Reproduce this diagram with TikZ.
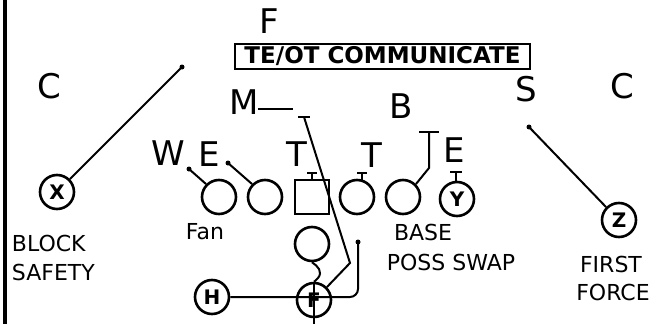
\documentclass[tikz,border=0pt]{standalone}
\usepackage{fontspec}
\setmainfont{DejaVu Sans}
\begin{document}
\begin{tikzpicture}[x=1pt,y=-1pt,line width=2pt,
  big/.style={font=\fontsize{34}{34}\selectfont, inner sep=0pt},
  lab/.style={font=\fontsize{22}{22}\selectfont, inner sep=0pt},
  man/.style={circle, draw, line width=2.6pt, minimum size=34pt, inner sep=0pt},
  skill/.style={man, font=\bfseries\fontsize{20}{20}\selectfont},
  ctr/.style={draw, line width=2.6pt, minimum size=34pt, inner sep=0pt},
  route/.style={line width=2pt},
  tdot/.style={circle, fill, inner sep=0pt, minimum size=5pt}
]
\fill[white] (0,0) rectangle (658,324);
\useasboundingbox (0,0) rectangle (658,324);
\draw[line width=3.5pt] (5,0) -- (5,324);

% defense letters
\node[big] (F) at (269,21) {F};
\node[draw, line width=1.8pt, minimum width=295pt, minimum height=25pt, inner sep=0pt,
      font=\bfseries\fontsize{23}{23}\selectfont] (box) at (382.5,56.5) {TE/OT COMMUNICATE};
\node[big] (CL) at (49,86) {C};
\node[big] (CR) at (622,86) {C};
\node[big] (S) at (526,89) {S};
\node[big] (M) at (244,102) {M};
\node[big] (B) at (401,106) {B};
\node[big] (W) at (168,153) {W};
\node[big] (E1) at (209,154) {E};
\node[big] (T1) at (297,154) {T};
\node[big] (T2) at (372,155) {T};
\node[big] (E2) at (454,150) {E};

% offense
\node[man] (c1) at (219,197) {};
\node[man] (c2) at (265,197) {};
\node[ctr] (sq) at (312,197) {};
\node[man] (c4) at (357,197) {};
\node[man] (c5) at (403,197) {};
\node[skill] (Y) at (457,199) {Y};
\node[skill] (X) at (57,192) {X};
\node[skill] (Z) at (619,220) {Z};
\node[man] (qb) at (312,244) {};
\node[skill] (H) at (212,297) {H};
\node[skill] (Fb) at (314,300) {F};

% labels
\node[lab] (fan) at (205,232) {Fan};
\node[lab] (base) at (423,232) {BASE};
\node[lab] (poss) at (451,262) {POSS SWAP};
\node[lab, anchor=west] (blk) at (11,243) {BLOCK};
\node[lab, anchor=west] (saf) at (11,272) {SAFETY};
\node[lab] (first) at (611,264) {FIRST};
\node[lab] (force) at (613,292) {FORCE};

% coordinates
\coordinate (dL) at (182,67);
\coordinate (dS) at (529,127);
\coordinate (m1) at (258,109);
\coordinate (m2) at (293,109);
\coordinate (mt) at (304,117);
\coordinate (mk) at (350,263);
\coordinate (bt) at (429,132);
\coordinate (bk) at (429,168);
\coordinate (dW) at (189,169);
\coordinate (dE) at (228,163);
\coordinate (vb) at (314,324);
\coordinate (rc) at (358,297);
\coordinate (dR) at (358,242);

% connectors
\node[tdot] at (dL) {};
\draw[route] (dL) -- (X.45);
\node[tdot] at (dS) {};
\draw[route] (dS) -- (Z.135);
\draw[route] (m1) -- (m2);
\draw[route] ([xshift=-6pt]mt) -- ([xshift=6pt]mt);
\draw[route] (mt) -- (mk) -- (Fb.45);
\draw[route] (sq.north) -- ++(0,-6) coordinate (sqt);
\draw[route] ([xshift=-5pt]sqt) -- ([xshift=5pt]sqt);
\draw[route] (c4.73) -- ++(0,-7) coordinate (c4t);
\draw[route] ([xshift=-5pt]c4t) -- ([xshift=5pt]c4t);
\draw[route] ([xshift=-1pt]Y.north) -- ++(0,-9) coordinate (yt);
\draw[route] ([xshift=-6pt]yt) -- ([xshift=6pt]yt);
\draw[route] ([xshift=-10pt]bt) -- ([xshift=10pt]bt);
\draw[route] (bt) -- (bk) -- (c5.45);
\node[tdot] at (dW) {};
\draw[route] (dW) -- (c1.135);
\node[tdot] at (dE) {};
\draw[route] (dE) -- (c2.135);
\draw[route] (qb.south) .. controls (318,266) and (323,272) .. (318,278)
  .. controls (315,281) and (314,282) .. (Fb.north);
\draw[route] (Fb.north) -- (vb);
\draw[route, rounded corners=8pt] (H.east) -- (rc) -- (dR);
\node[tdot] at (dR) {};
\end{tikzpicture}
\end{document}
